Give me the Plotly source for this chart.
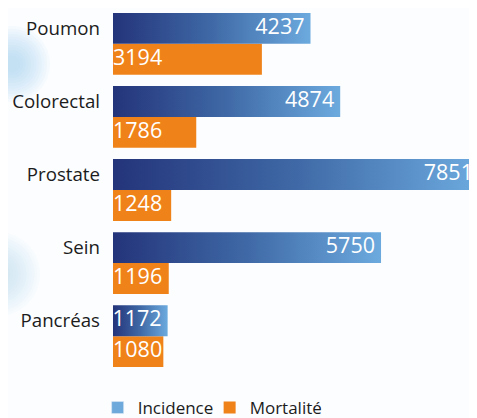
import plotly.graph_objects as go
import numpy as np

categories = ["Poumon", "Colorectal", "Prostate", "Sein", "Pancréas"]
incidence = [4237, 4874, 7851, 5750, 1172]
mortalite = [3194, 1786, 1248, 1196, 1080]
series_names = ["Incidence", "Mortalité"]

pos = np.arange(len(categories))
BW = 0.423
FONT = "Open Sans"
grad = [[0, "#24347a"], [0.5, "#3f69a6"], [1, "#6caade"]]

fig = go.Figure()

# soft background blobs (decoration), offsets in px relative to plot's top-left
for (cx, cy, rmax, col) in [(12, 56, 38, "#9fcfea"), (-2, 266, 42, "#b5dbef")]:
    for k in range(12):
        r = rmax - k * 2.7
        fig.add_shape(type="circle", xref="paper", yref="paper",
                      xsizemode="pixel", ysizemode="pixel", xanchor=0, yanchor=1,
                      x0=cx - 113 - r, x1=cx - 113 + r, y0=-cy - r, y1=-cy + r,
                      fillcolor=col, opacity=0.06, line=dict(width=0), layer="below")

# legend proxy for incidence
fig.add_trace(go.Bar(x=[None], y=[None], orientation="h", name=series_names[0],
                     marker_color="#6ea9dc", legendrank=1))

# mortality bars
fig.add_trace(go.Bar(x=mortalite, y=pos, orientation="h", width=BW, offset=0,
                     marker=dict(color="#f0821a", line=dict(width=0)),
                     name=series_names[1], legendrank=2, hoverinfo="x"))

# incidence bars with horizontal gradient
for p, v in zip(pos, incidence):
    fig.add_trace(go.Scatter(x=[0, v, v, 0, 0], y=[p - BW, p - BW, p, p, p - BW],
                             fill="toself", mode="lines", line=dict(width=0),
                             fillgradient=dict(type="horizontal", colorscale=grad),
                             showlegend=False, hoverinfo="skip"))

# value labels
fig.add_trace(go.Scatter(x=incidence, y=pos - BW / 2, mode="markers+text",
                         marker=dict(size=8, opacity=0),
                         text=[str(v) for v in incidence], textposition="middle left",
                         textfont=dict(color="white", size=21.5, family=FONT),
                         cliponaxis=False, showlegend=False, hoverinfo="skip"))
fig.add_trace(go.Scatter(x=[0] * len(mortalite), y=pos + BW / 2, mode="text",
                         text=[str(v) for v in mortalite], textposition="middle right",
                         textfont=dict(color="white", size=21.5, family=FONT),
                         cliponaxis=False, showlegend=False, hoverinfo="skip"))

fig.update_layout(
    width=471, height=418,
    margin=dict(l=105, r=0, t=0, b=45),
    paper_bgcolor="#fbfdff", plot_bgcolor="rgba(0,0,0,0)",
    barmode="overlay",
    font=dict(family=FONT, color="#1c1c1c", size=18.7),
    showlegend=True,
    legend=dict(orientation="h", x=-0.042, xanchor="left", y=-0.075, yanchor="middle",
                font=dict(size=17, color="#1c1c1c"), bgcolor="rgba(0,0,0,0)",
                entrywidth=67),
)
fig.update_xaxes(range=[0, 7852], showgrid=False, zeroline=False, showticklabels=False,
                 showline=False, fixedrange=True)
fig.update_yaxes(range=[4.6, -0.49], tickmode="array", tickvals=pos - BW / 2,
                 ticktext=categories, showgrid=False, zeroline=False, showline=False,
                 ticks="", ticklabelstandoff=12, fixedrange=True)

fig.write_html("out.html")
